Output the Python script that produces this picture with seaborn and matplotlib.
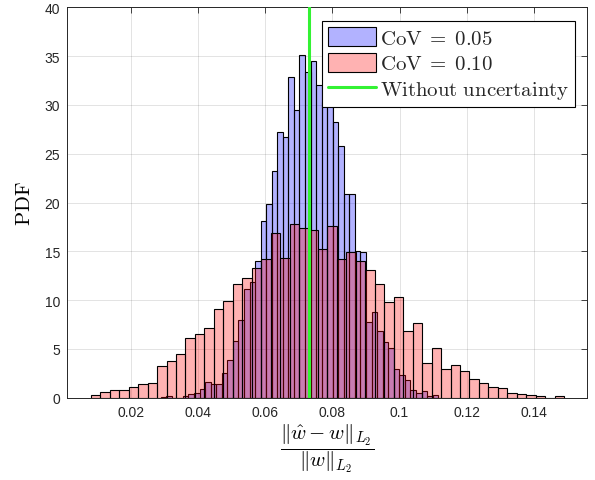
import numpy as np
import pandas as pd
import matplotlib
matplotlib.use("Agg")
import matplotlib.pyplot as plt
import seaborn as sns
from matplotlib.patches import Patch
from matplotlib.lines import Line2D

# ---------------- data ----------------
# PDF heights of the 50 histogram bins, CoV = 0.05
cov05_pdf = [0.10, 0.20, 0.00, 0.00, 0.21, 0.38, 0.45, 0.89, 1.66, 1.37,
             1.38, 2.48, 3.90, 5.86, 7.98, 11.10, 11.82, 14.05, 18.07, 19.81,
             23.26, 27.19, 26.71, 32.89, 29.45, 35.14, 33.40, 34.46, 32.00, 30.26,
             31.00, 28.20, 25.80, 20.87, 20.84, 15.00, 14.90, 7.79, 8.75, 6.87,
             5.74, 5.06, 2.96, 2.36, 1.78, 0.74, 0.46, 0.70, 0.22, 0.28]
cov05_range = (0.02891, 0.1115)

# PDF heights of the 50 histogram bins, CoV = 0.10
cov10_pdf = [0.31, 0.55, 0.79, 0.79, 1.06, 1.37, 1.50, 3.24, 3.72, 4.51,
             6.08, 6.49, 7.10, 9.05, 9.94, 11.68, 12.30, 13.25, 14.24, 16.91,
             14.34, 17.79, 17.35, 17.21, 15.23, 17.59, 14.24, 14.96, 14.04, 13.08,
             11.61, 9.77, 10.35, 6.80, 7.69, 3.56, 5.06, 2.94, 3.38, 2.77,
             1.95, 1.47, 1.09, 0.99, 0.51, 0.41, 0.31, 0.20, 0.00, 0.20]
cov10_range = (0.00809, 0.1490)

baseline_error = 0.0731

xtick_values = [0.02, 0.04, 0.06, 0.08, 0.10, 0.12, 0.14]
xtick_labels = ["0.02", "0.04", "0.06", "0.08", "0.1", "0.12", "0.14"]
ytick_values = [0, 5, 10, 15, 20, 25, 30, 35, 40]
legend_labels = [r"$\mathrm{CoV}\;=\;0.05$", r"$\mathrm{CoV}\;=\;0.10$",
                 r"$\mathrm{Without\ uncertainty}$"]
ylabel_text = r"$\mathrm{PDF}$"
xlabel_text = r"$\dfrac{\Vert\hat{w}-w\Vert_{L_2}}{\Vert w\Vert_{L_2}}$"

# ---------------- style ----------------
sns.set_style("white")
plt.rcParams["font.family"] = ["Liberation Sans", "DejaVu Sans"]
plt.rcParams["mathtext.fontset"] = "cm"

dark = (0.15, 0.15, 0.15)
blue_face = (0.0, 0.0, 1.0, 0.3)
red_face = (1.0, 0.0, 0.0, 0.3)
green = (0.2, 0.95, 0.2)

fig = plt.figure(figsize=(5.95, 4.81), dpi=100)
ax = fig.add_axes([0.1131, 0.1711, 0.8740, 0.8116])


def hist_frame(pdf, rng):
    edges = np.linspace(rng[0], rng[1], len(pdf) + 1)
    centers = (edges[:-1] + edges[1:]) / 2
    return pd.DataFrame({"x": centers, "pdf": pdf}), [float(e) for e in edges]


df05, edges05 = hist_frame(cov05_pdf, cov05_range)
df10, edges10 = hist_frame(cov10_pdf, cov10_range)

sns.histplot(data=df05, x="x", weights="pdf", bins=edges05, stat="count",
             ax=ax, facecolor=blue_face, edgecolor="black", linewidth=0.8)
sns.histplot(data=df10, x="x", weights="pdf", bins=edges10, stat="count",
             ax=ax, facecolor=red_face, edgecolor="black", linewidth=0.8)
ax.axvline(baseline_error, color=green, lw=2.2, zorder=5)

ax.set_xlim(0.0011, 0.1559)
ax.set_ylim(0, 40)
ax.set_xticks(xtick_values)
ax.set_xticklabels(xtick_labels)
ax.set_yticks(ytick_values)

ax.set_axisbelow(True)
ax.grid(True, color=dark, alpha=0.15, lw=0.6)
ax.tick_params(direction="in", top=True, right=True, length=4, width=0.6,
               colors=dark, labelsize=10, labelcolor=dark, pad=5)
for s in ax.spines.values():
    s.set_color(dark)
    s.set_linewidth(0.7)

ax.set_ylabel(ylabel_text, fontsize=15, color="black", labelpad=8)
ax.set_xlabel(xlabel_text, fontsize=15, color="black", labelpad=2)

handles = [Patch(facecolor=blue_face, edgecolor="black", lw=0.8),
           Patch(facecolor=red_face, edgecolor="black", lw=0.8),
           Line2D([], [], color=green, lw=2.2)]
leg = ax.legend(handles, legend_labels, loc="upper right",
                bbox_to_anchor=(0.976, 0.964), borderaxespad=0,
                prop={"size": 15}, fancybox=False, framealpha=1,
                edgecolor="black", handlelength=2.3, handleheight=1.0,
                handletextpad=0.2, borderpad=0.28, labelspacing=0.25)
leg.get_frame().set_linewidth(0.8)

fig.savefig("out.png", dpi=100)
